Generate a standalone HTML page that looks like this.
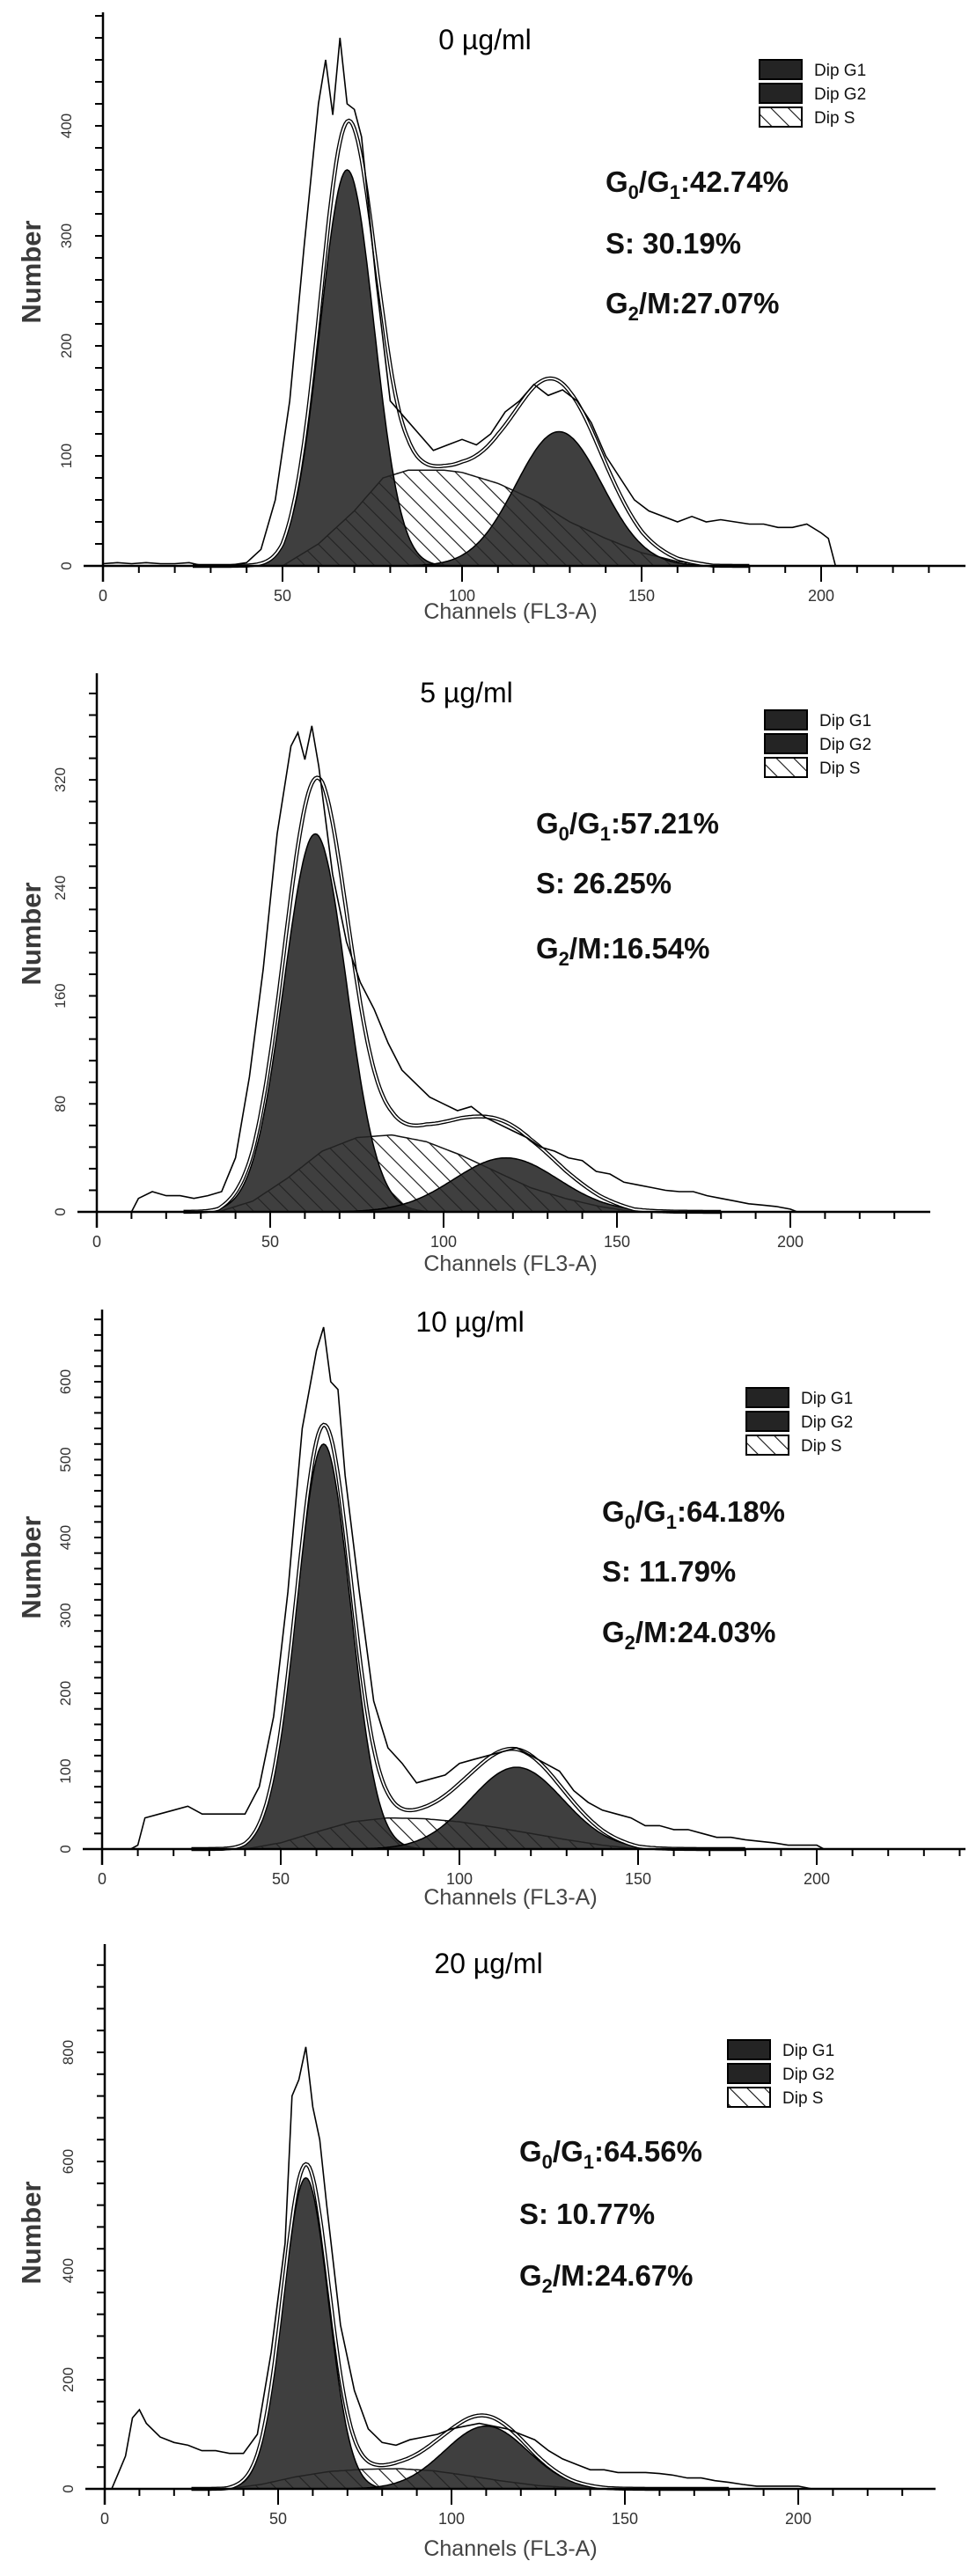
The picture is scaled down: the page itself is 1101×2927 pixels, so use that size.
<!DOCTYPE html>
<html><head><meta charset="utf-8">
<style>
html,body{margin:0;padding:0;background:#fff;}
svg{display:block;}
</style></head>
<body>
<svg id="fig" width="1101" height="2927" viewBox="0 0 1101 2927" xmlns="http://www.w3.org/2000/svg">
<defs>
<pattern id="hatch" patternUnits="userSpaceOnUse" width="14" height="14" patternTransform="rotate(-45)">
<rect width="14" height="14" fill="#fff"/>
<line x1="0" y1="0" x2="0" y2="14" stroke="#111" stroke-width="2.2"/>
</pattern>
</defs>
</svg>
<script>
// ===== Data (per panel) =====
const titles = ["0 µg/ml", "5 µg/ml", "10 µg/ml", "20 µg/ml"];
const statG1 = ["42.74%", "57.21%", "64.18%", "64.56%"];
const statS = ["30.19%", "26.25%", "11.79%", "10.77%"];
const statG2 = ["27.07%", "16.54%", "24.03%", "24.67%"];
const yTicks1 = [0, 100, 200, 300, 400];
const yTicks2 = [0, 80, 160, 240, 320];
const yTicks3 = [0, 100, 200, 300, 400, 500, 600];
const yTicks4 = [0, 200, 400, 600, 800];
const xTicks = [0, 50, 100, 150, 200];
// G1 / G2 fitted gaussians: [mean, sd, height]
const g1Fit = [[68, 7.5, 360], [63, 9, 280], [62, 7.5, 520], [58, 6.5, 570]];
const g2Fit = [[127, 12, 122], [118, 15, 40], [116, 13, 105], [110, 12, 115]];
// S phase curves
const sCh1 = [50, 60, 70, 78, 85, 95, 100, 110, 120, 130, 140, 150, 160, 170];
const sVal1 = [0, 20, 50, 80, 87, 87, 85, 75, 60, 40, 25, 12, 4, 0];
const sCh2 = [35, 45, 55, 65, 75, 85, 95, 105, 115, 125, 135, 145, 155];
const sVal2 = [0, 8, 25, 45, 55, 57, 52, 42, 30, 18, 10, 4, 0];
const sCh3 = [40, 50, 60, 70, 80, 90, 100, 110, 120, 130, 140, 150];
const sVal3 = [0, 8, 22, 35, 40, 39, 35, 28, 20, 12, 5, 0];
const sCh4 = [35, 45, 55, 65, 75, 85, 95, 105, 115, 125, 135, 145];
const sVal4 = [0, 8, 22, 32, 36, 37, 33, 24, 14, 6, 2, 0];
// raw histograms
const rawCh1 = [0,4,8,12,16,20,24,28,32,36,40,44,48,52,56,60,62,64,66,68,70,72,76,80,84,88,92,96,100,104,108,112,116,120,124,128,132,136,140,144,148,152,156,160,164,168,172,176,180,184,188,192,196,200,202,204];
const rawVal1 = [2,3,2,3,2,2,3,0,0,1,3,15,60,150,290,420,460,410,480,420,415,390,260,150,135,120,105,110,115,110,120,140,150,165,155,160,150,130,100,80,60,50,45,40,45,40,42,40,38,38,35,35,38,30,25,0];
const rawCh2 = [10,12,16,20,24,28,32,36,40,44,48,52,56,58,60,62,64,68,72,76,80,84,88,92,96,100,104,108,112,116,120,124,128,132,136,140,144,148,152,156,160,164,168,172,176,180,184,188,192,196,200,202];
const rawVal2 = [0,10,15,12,12,10,12,15,40,100,180,280,345,355,335,360,330,250,200,170,150,125,105,95,85,80,75,78,70,65,60,55,48,45,40,38,30,28,22,20,18,16,15,15,12,10,8,6,5,4,2,0];
const rawCh3 = [8,10,12,16,20,24,28,32,36,40,44,48,52,56,60,62,64,66,68,72,76,80,84,88,92,96,100,104,108,112,116,120,124,128,132,136,140,144,148,152,156,160,164,168,172,176,180,184,188,192,196,200,202];
const rawVal3 = [0,5,40,45,50,55,45,45,45,45,80,170,330,540,640,670,600,590,480,330,190,130,110,85,90,95,110,115,120,125,130,120,110,100,75,60,50,45,40,30,30,25,25,20,15,15,12,10,8,5,5,5,0];
const rawCh4 = [2,4,6,8,10,12,16,20,24,28,32,36,40,44,48,52,54,56,58,60,62,64,68,72,76,80,84,88,92,96,100,104,108,112,116,120,124,128,132,136,140,144,148,152,156,160,164,168,172,176,180,184,188,192,196,200,204];
const rawVal4 = [0,30,60,130,145,120,95,85,80,70,70,65,65,100,250,450,720,750,810,700,640,520,300,180,110,85,80,90,95,100,110,115,120,115,110,100,90,70,55,45,35,35,30,30,30,28,25,20,20,15,12,8,5,5,5,5,0];

// ===== Layout (not data) =====
const layouts = [
  {off:0,   x0:117, base:643,  kx:4.08, ky:1.25,   top:14,   right:1097, title:[551,44], leg:[863,68], stat:[688,218,288,356], yl:309,  xl:703},
  {off:740, x0:110, base:1377, kx:3.94, ky:1.534,  top:765,  right:1057, title:[530,786], leg:[869,807], stat:[609,947,1015,1089], yl:1061, xl:1444},
  {off:1460,x0:116, base:2101, kx:4.06, ky:0.885,  top:1488, right:1097, title:[534,1501], leg:[848,1577], stat:[684,1729,1797,1866], yl:1781, xl:2164},
  {off:2180,x0:119, base:2828, kx:3.94, ky:0.62,   top:2209, right:1063, title:[555,2230], leg:[827,2318], stat:[590,2456,2527,2597], yl:2537, xl:2904}
];
const yTickSets = [yTicks1, yTicks2, yTicks3, yTicks4];
const yMinor = [20, 16, 20, 40];
const sChs = [sCh1, sCh2, sCh3, sCh4], sVals = [sVal1, sVal2, sVal3, sVal4];
const rawChs = [rawCh1, rawCh2, rawCh3, rawCh4], rawVals = [rawVal1, rawVal2, rawVal3, rawVal4];

const NS = "http://www.w3.org/2000/svg";
const svg = document.getElementById("fig");
function mk(tag, attrs, parent){ const e=document.createElementNS(NS,tag); for(const k in attrs) e.setAttribute(k,attrs[k]); (parent||svg).appendChild(e); return e; }
function gauss(c,p){ return p[2]*Math.exp(-0.5*Math.pow((c-p[0])/p[1],2)); }
function sAt(c,ch,val){ if(c<=ch[0]||c>=ch[ch.length-1]) return 0; for(let i=0;i<ch.length-1;i++){ if(c>=ch[i]&&c<=ch[i+1]){ const t=(c-ch[i])/(ch[i+1]-ch[i]); return val[i]+(val[i+1]-val[i])*t; } } return 0; }

layouts.forEach((L,i)=>{
  const X = c => L.x0 + c*L.kx;
  const Y = v => L.base - v*L.ky;
  const g = mk("g",{});
  
  

  const sp = [];
  for(let c=sChs[i][0]; c<=sChs[i][sChs[i].length-1]; c+=1) sp.push(X(c).toFixed(1)+","+Y(sAt(c,sChs[i],sVals[i])).toFixed(1));
  const sPath = mk("polygon",{points: sp.join(" "), fill:"url(#hatch)", stroke:"#111", "stroke-width":"1.5"}, g);
  
  

  [g1Fit[i], g2Fit[i]].forEach((p,j)=>{
    const pts=[X(p[0]-4*p[1]).toFixed(1)+","+L.base];
    for(let c=p[0]-4*p[1]; c<=p[0]+4*p[1]; c+=0.5) pts.push(X(c).toFixed(1)+","+Y(gauss(c,p)).toFixed(1));
    pts.push(X(p[0]+4*p[1]).toFixed(1)+","+L.base);
    const pg = mk("polygon",{points:pts.join(" "), fill:"#242424", "fill-opacity":"0.88", stroke:"#000", "stroke-width":"1.5"}, g);
    
    
  });

  const ep=[];
  for(let c=25; c<=180; c+=0.5){ const v=gauss(c,g1Fit[i])+gauss(c,g2Fit[i])+sAt(c,sChs[i],sVals[i]); ep.push(X(c).toFixed(1)+","+Y(v).toFixed(1)); }
  const env = mk("polyline",{points:ep.join(" "), fill:"none", stroke:"#000", "stroke-width":"4.5"}, g);
  
  
  const env2 = mk("polyline",{points:ep.join(" "), fill:"none", stroke:"#fff", "stroke-width":"1.8"}, g);
  
  

  const rp = rawChs[i].map((c,k)=>X(c).toFixed(1)+","+Y(rawVals[i][k]).toFixed(1));
  const raw = mk("polyline",{points:rp.join(" "), fill:"none", stroke:"#000", "stroke-width":"1.6"}, g);
  
  

  const xa = mk("line",{x1:L.x0-22, y1:L.base, x2:L.right, y2:L.base, stroke:"#000","stroke-width":"2.5"}, g);
  
  
  const ya = mk("line",{x1:L.x0, y1:L.top, x2:L.x0, y2:L.base+18, stroke:"#000","stroke-width":"2.5"}, g);
  
  
  for(let c=10; X(c)<=L.right-4; c+=10){
    const major = c%50===0;
    mk("line",{x1:X(c), y1:L.base, x2:X(c), y2:L.base+(major?18:8), stroke:"#000","stroke-width":"2"}, g);
  }
  xTicks.forEach(t=>{
    const tx = mk("text",{x:X(t), y:L.base+40, "text-anchor":"middle", "font-family":"Liberation Sans, sans-serif", "font-size":"18", fill:"#333"}, g);
    tx.textContent = t;
    
    
  });
  const yTop = (L.base - L.top)/L.ky;
  for(let v=yMinor[i]; v<=yTop; v+=yMinor[i]){
    mk("line",{x1:L.x0-9, y1:Y(v), x2:L.x0, y2:Y(v), stroke:"#000","stroke-width":"2"}, g);
  }
  yTickSets[i].forEach(t=>{
    const ty = mk("text",{x:0, y:0, transform:`translate(${L.x0-36},${Y(t)}) rotate(-90)`, "text-anchor":"middle", "font-family":"Liberation Sans, sans-serif", "font-size":"17", fill:"#333"}, g);
    ty.textContent = t;
    
    
  });

  const yt = mk("text",{x:0,y:0, transform:`translate(46,${L.yl}) rotate(-90)`, "text-anchor":"middle", "font-family":"Liberation Sans, sans-serif", "font-size":"31", "font-weight":"bold", fill:"#3a3a3a"}, g);
  yt.textContent = "Number";
  
  
  const xt = mk("text",{x:580, y:L.xl, "text-anchor":"middle", "font-family":"Liberation Sans, sans-serif", "font-size":"25", fill:"#444"}, g);
  xt.textContent = "Channels (FL3-A)";
  
  

  const tt = mk("text",{x:L.title[0], y:L.title[1]+12, "text-anchor":"middle", "font-family":"Liberation Sans, sans-serif", "font-size":"32", fill:"#000"}, g);
  tt.textContent = titles[i];
  
  

  const labs = ["Dip G1","Dip G2","Dip S"];
  labs.forEach((lb,k)=>{
    const by = L.leg[1] + k*27;
    const r = mk("rect",{x:L.leg[0], y:by, width:48, height:22, fill: k<2 ? "#242424" : "url(#hatch)", stroke:"#000","stroke-width":"2"}, g);
    
    
    const lt = mk("text",{x:L.leg[0]+62, y:by+18, "font-family":"Liberation Sans, sans-serif", "font-size":"19", fill:"#111"}, g);
    lt.textContent = lb;
    
    
  });

  const st = {"font-family":"Liberation Sans, sans-serif", "font-size":"33", "font-weight":"bold", fill:"#111"};
  const t1 = mk("text",Object.assign({x:L.stat[0], y:L.stat[1]},st), g);
  t1.innerHTML = 'G<tspan font-size="22" dy="8">0</tspan><tspan dy="-8">/G</tspan><tspan font-size="22" dy="8">1</tspan><tspan dy="-8">:'+statG1[i]+'</tspan>';
  
  
  const t2 = mk("text",Object.assign({x:L.stat[0], y:L.stat[2]},st), g);
  t2.textContent = "S: "+statS[i];
  
  
  const t3 = mk("text",Object.assign({x:L.stat[0], y:L.stat[3]},st), g);
  t3.innerHTML = 'G<tspan font-size="22" dy="8">2</tspan><tspan dy="-8">/M:'+statG2[i]+'</tspan>';
  
  
});
</script>
</body></html>
